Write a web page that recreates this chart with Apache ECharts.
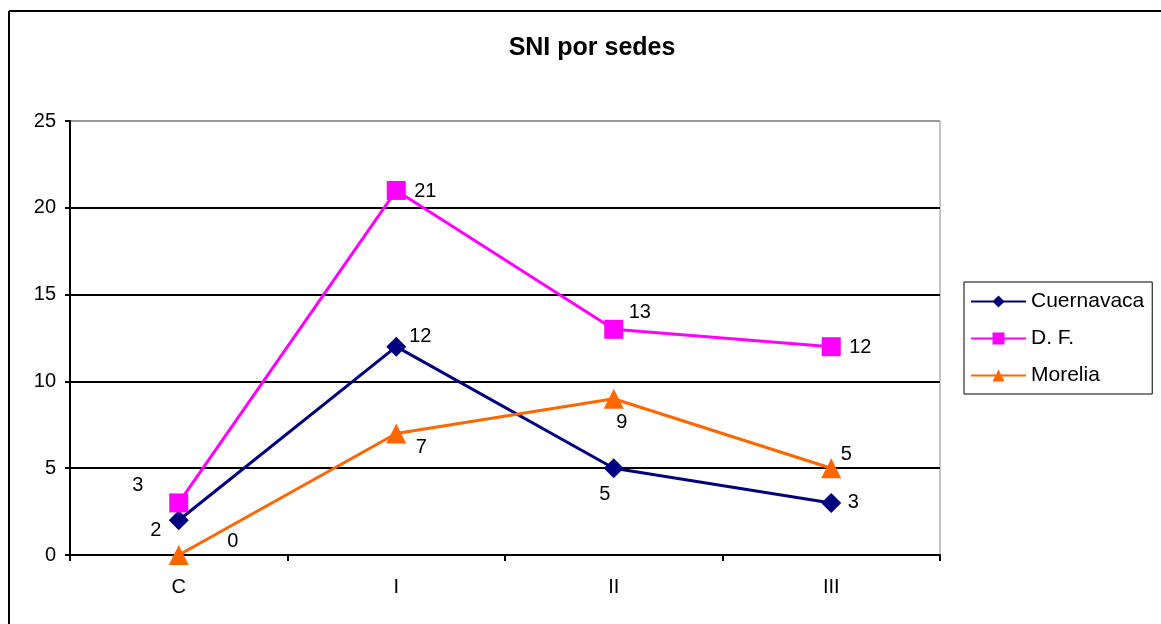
<!DOCTYPE html>
<html>
<head>
<meta charset="utf-8">
<script src="https://cdn.jsdelivr.net/npm/echarts@6/dist/echarts.min.js"></script>
<style>
    html, body { margin: 0; padding: 0; background: #fff; }
    #sniChart { width: 1161px; height: 624px; }
</style>
</head>
<body>
<div id="sniChart"></div>
<script>
// datos
var categorias = ['C', 'I', 'II', 'III'];
var cuernavaca = [2, 12, 5, 3];
var df = [3, 21, 13, 12];
var morelia = [0, 7, 9, 5];
var yTicks = [0, 5, 10, 15, 20, 25];

// desplazamiento de etiquetas (px)
var offCuer = [[-23, 10], [24, -10], [-9, 26], [22, 0]];
var offDf = [[-41, -17], [29, 1], [26, -17], [29, 1]];
var offMor = [[54, -14], [25, 14], [8, 24], [15, -14]];

function puntos(vals, offs) {
    return vals.map(function (v, i) {
        return { value: v, label: { offset: offs[i] } };
    });
}

function serie(nombre, vals, offs, color, symbol, size) {
    return {
        name: nombre,
        type: 'line',
        data: puntos(vals, offs),
        symbol: symbol,
        symbolSize: size,
        showAllSymbol: true,
        color: color,
        lineStyle: { width: 3, color: color },
        itemStyle: { color: color },
        label: {
            show: true,
            position: 'inside',
            color: '#000',
            fontSize: 20,
            fontFamily: 'Liberation Sans, Arial'
        },
        emphasis: { disabled: true },
        animation: false
    };
}

var option = {
    backgroundColor: '#fff',
    textStyle: { fontFamily: 'Liberation Sans, Arial' },
    title: {
        text: 'SNI por sedes',
        left: 587,
        top: 31,
        textAlign: 'center',
        textStyle: { fontSize: 25, fontWeight: 'bold', color: '#000' }
    },
    grid: {
        left: 70,
        top: 121,
        width: 870,
        height: 434,
        show: true,
        borderColor: '#888',
        borderWidth: 1
    },
    legend: {
        orient: 'vertical',
        left: 964,
        top: 282,
        padding: [9, 8, 8, 6],
        itemGap: 16,
        itemWidth: 55,
        itemHeight: 15,
        borderColor: '#000',
        borderWidth: 1,
        textStyle: { fontSize: 21, color: '#000' },
        data: ['Cuernavaca', 'D. F.', 'Morelia']
    },
    xAxis: {
        type: 'category',
        data: categorias,
        boundaryGap: true,
        axisLine: { lineStyle: { color: '#000', width: 2 } },
        axisTick: { show: true, length: 6, lineStyle: { color: '#000', width: 2 } },
        axisLabel: { color: '#000', fontSize: 20, margin: 22 }
    },
    yAxis: {
        type: 'value',
        min: yTicks[0],
        max: yTicks[yTicks.length - 1],
        interval: 5,
        axisLine: { show: true, lineStyle: { color: '#000', width: 2 } },
        axisTick: { show: true, length: 5, lineStyle: { color: '#000', width: 2 } },
        axisLabel: { color: '#000', fontSize: 20, margin: 14 },
        splitLine: {
            lineStyle: { color: ['#000', '#000', '#000', '#000', '#000', '#999'], width: 2 }
        }
    },
    graphic: [
        { type: 'line', shape: { x1: 9, y1: 11, x2: 1161, y2: 11 }, style: { stroke: '#000', lineWidth: 2 } },
        { type: 'line', shape: { x1: 9, y1: 11, x2: 9, y2: 624 }, style: { stroke: '#000', lineWidth: 2 } }
    ],
    series: [
        serie('Cuernavaca', cuernavaca, offCuer, '#000080', 'diamond', 20),
        serie('D. F.', df, offDf, '#FF00FF', 'rect', 19),
        serie('Morelia', morelia, offMor, '#FF6600', 'triangle', 20)
    ]
};

var sniChart = echarts.init(document.getElementById('sniChart'));
sniChart.setOption(option, true);
window.addEventListener('resize', function () {
    sniChart.resize();
});
</script>
</body>
</html>
